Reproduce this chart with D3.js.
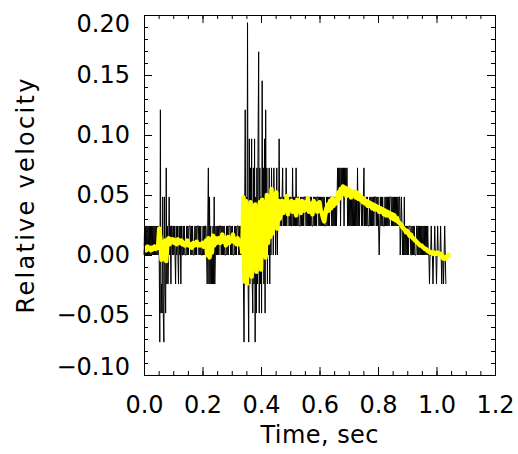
<!DOCTYPE html>
<html>
<head>
<meta charset="utf-8">
<script src="https://cdn.jsdelivr.net/npm/d3@7"></script>
<style>
  body { margin: 0; background: #fff; }
  svg { display: block; }
</style>
</head>
<body>
<div id="chart"></div>
<script>
// Raw trace sampled every 2 ms, smoothed trace every 4 ms.
const rawStep = 0.002;
const smoothStep = 0.004;
// The raw trace only takes whole multiples of this velocity step.
const levelStep = 0.0242;

// Raw trace (black), in velocity steps, one array per stretch of time.
const rawQuiet1 = [0,1,0,1,0,1,0,1,0,1,0,1,0,1,0,1,0,1,0,1,0,1,0,1,0,1];
const rawJolt = [0,-3,5,-2,-1,-2,2,-2,-3,2,-1,-2,3,-1,1,-1,0,2,0,1,-1,1];
const rawAfterJolt = [1,0,1,0,1,0,-1,1,0,1,0,-1,1,0,1,-1,1,0];
const rawQuiet2 = [0,1,0,1,0,0,0,1,0,1, 0,1,1,1,0,1,0,1,0,0,
                   0,1,0,1,0,1,1,1,0,1, 0,1,0,0,0,1,0,1,0,1];
const rawBlip = [1,0,-1,1,3,-1,2,-1,1,-1,0,-1,1,-1,2,-1,0,1,0,1];
const rawQuiet3 = [0,1,0,1,1,1,0,1,0,1, 0,1,0,0,0,1,0,1,0,1,
                   1,1,0,1,0,1,0,0,0,1, 0,1,0,1,1,1,0,1,0,1, 0,1];
const rawBurst = [0,1,-1,-3,1,5,-1,2,0,8, -1,-3,4,-1,3,0,4,-1,-2,3,
                  -1,4,-3,2,-2,3,-1,4,7,-2, 3,-1,2,-2,6,0,3,-1,4,-2,
                  5,0,3,-1,2,0,3,-1,2,0, 3,1,2,0,3,1,2,0,1,3, 0,2,1,4,1];
const rawPlateau = [1,2,1,2,3,1,2,1,2,1, 3,1,2,2,2,1,2,1,2,1,
                    1,3,1,2,1,2,1,3,1,2, 1,2,1,1,1,2,1,2,1,2,
                    1,2,2,2,1,2,1,2,1,2, 1,2,1,2,1,1,1,2,1,2,
                    1,2,1,2,2,2,1,2,1,2, 1,2,1,2,1,2,1,1,1,2,
                    1,2,1,2,1,2,2,2,1,2, 1,2,1,2,1,2,1];
const rawPeak = [2,3,2,3,2,3,1,3,2,3, 2,3,1,3,2,3,2,3,1,2, 1,2,1,2,1,2,1];
const rawFall = [2,1,2,1,2,1,2,1,3,1, 2,1,2,2,2,1,2,1,2,3,
                 1,2,1,2,1,2,1,1,1,2, 1,2,1,2,1,2,1,2,2,2,
                 1,2,1,2,1,0,1,2,1,2, 1,2,1,1,1,2,1,2,1,2,
                 1,2,1,2,2,2,1,2,1,2, 1,2,1,2,1,2,1,2,1,2];
const rawLow = [2,0,1,2,1,0,1,0,2,0, 1,0,1,0,1,0,1,1,1,0,
                0,1,0,1,0,1,0,0,0,1, 1,0,1,0,1,0,1,0,1,0, 1,0,1,0,1,0,1,0,1];
const rawEnd = [0,0,-1,0,0,1,0,0,-1,0, 0,1,0,0,-1,0,1,0,0,0,
                0,1,0,-1,0,0,-1,0,1,0, -1];

// Smoothed trace (yellow), in thousandths.
const smoothQuiet1 = [5,6,4,7,5,6,4,6,5,7,5,6,6];
const smoothJolt = [22,14,-4,10,-3,12,-5,11,14,9,13];
const smoothAfterJolt = [11,13,10,12,9,13,11,10,12];
const smoothQuiet2 = [9,10,8,9,12,8,9,9,6,10,8,9,11,8,9,8,9,10,7,9];
const smoothBlip = [12,0,14,-2,13,2,16,8,14,10];
const smoothQuiet3 = [12,14,10,13,17,11,14,8,13,15,10,14,12,17,11,13,9,14,9,12,11];
const smoothBurst = [2,48,-22,45,-24,40,-15,44,-18,38, -10,42,-14,35,0,44,-12,46,5,40,
                     -2,50,10,45,15,55,18,48,25,52, 22,45,30];
const smoothPlateau = [36,45,35,44,39,49,34,43,38,45, 36,44,39,33,46,38,43,35,45,39,
                       37,44,38,47,36,43,39,34,45,38, 43,36,41,44,37,35,31,28,34,39,
                       42,37,45,39,47,41,46,43];
const smoothPeak = [45,52,47,55,50,57,51,56,49,55,50,54,48,52];
const smoothFall = [51,53,48,52,47,50,46,48,44,47, 43,45,41,44,41,43,39,42,38,41,
                    38,40,36,39,36,38,34,37,33,36, 33,35,31,34,30,33,29,31,28,27];
const smoothLow = [26,25,23,22,21,19,20,18,16,17,15,14,13,12,11,10,9,8,8,7,6,5,5,4,3];
const smoothEnd = [3,2,2,1,2,1,1,2,1,0,1,-2,-3,-2,-3,-1,0,0,0];

// Axis labels
const xTickValues = [0, 0.2, 0.4, 0.6, 0.8, 1.0, 1.2];
const yTickValues = [-0.10, -0.05, 0, 0.05, 0.10, 0.15, 0.20];
const xTitle = "Time, sec";
const yTitle = "Relative velocity";

const rawLevels = [].concat(rawQuiet1, rawJolt, rawAfterJolt, rawQuiet2, rawBlip,
  rawQuiet3, rawBurst, rawPlateau, rawPeak, rawFall, rawLow, rawEnd);
const smoothValues = [].concat(smoothQuiet1, smoothJolt, smoothAfterJolt, smoothQuiet2,
  smoothBlip, smoothQuiet3, smoothBurst, smoothPlateau, smoothPeak, smoothFall,
  smoothLow, smoothEnd);

const width = 518;
const height = 454;
const plotLeft = 144, plotRight = 495, plotTop = 15, plotBottom = 375;
const font = "'DejaVu Sans', sans-serif";

const x = d3.scaleLinear().domain([0, 1.2]).range([plotLeft, plotRight]);
const y = d3.scaleLinear().domain([-0.10, 0.20]).range([plotBottom, plotTop]);

const svg = d3.select("#chart")
  .append("svg")
  .attr("width", width)
  .attr("height", height)
  .attr("viewBox", [0, 0, width, height]);

svg.append("rect")
  .attr("width", width)
  .attr("height", height)
  .attr("fill", "#fff");

// Traces
svg.append("path")
  .datum(rawLevels.map((v, i) => [i * rawStep, v * levelStep]))
  .attr("fill", "none")
  .attr("stroke", "#000")
  .attr("stroke-width", 1)
  .attr("d", d3.line().x((d) => x(d[0])).y((d) => y(d[1])));

svg.append("path")
  .datum(smoothValues.map((v, i) => [i * smoothStep, v / 1000]))
  .attr("fill", "none")
  .attr("stroke", "#ffff00")
  .attr("stroke-width", 4.5)
  .attr("stroke-linejoin", "round")
  .attr("d", d3.line().x((d) => x(d[0])).y((d) => y(d[1])));

// Tick marks on all four sides, pointing inward
function styleAxis(g) {
  g.attr("font-family", font).attr("font-size", 24);
  g.select(".domain").remove();
  g.selectAll(".tick line").attr("stroke", "#000");
  g.selectAll(".tick text").attr("fill", "#000");
}

svg.append("g")
  .attr("transform", `translate(0,${plotBottom})`)
  .call(d3.axisBottom(x).tickValues(xTickValues).tickSize(-8).tickPadding(21)
    .tickFormat(d3.format(".1f")))
  .call(styleAxis);

svg.append("g")
  .attr("transform", `translate(0,${plotBottom})`)
  .call(d3.axisBottom(x).ticks(24).tickSize(-4).tickFormat(""))
  .call(styleAxis);

svg.append("g")
  .attr("transform", `translate(0,${plotTop})`)
  .call(d3.axisTop(x).tickValues(xTickValues).tickSize(-8).tickFormat(""))
  .call(styleAxis);

svg.append("g")
  .attr("transform", `translate(0,${plotTop})`)
  .call(d3.axisTop(x).ticks(24).tickSize(-4).tickFormat(""))
  .call(styleAxis);

svg.append("g")
  .attr("transform", `translate(${plotLeft},0)`)
  .call(d3.axisLeft(y).tickValues(yTickValues).tickSize(-8).tickPadding(14)
    .tickFormat(d3.format(".2f")))
  .call(styleAxis)
  .call((g) => {
    // keep the end labels inside the frame height
    g.selectAll(".tick text")
      .filter((d) => d === 0.20)
      .attr("y", 9);
    g.selectAll(".tick text")
      .filter((d) => d === -0.10)
      .attr("y", -8);
  });

svg.append("g")
  .attr("transform", `translate(${plotLeft},0)`)
  .call(d3.axisLeft(y).ticks(30).tickSize(-4).tickFormat(""))
  .call(styleAxis);

svg.append("g")
  .attr("transform", `translate(${plotRight},0)`)
  .call(d3.axisRight(y).tickValues(yTickValues).tickSize(-8).tickFormat(""))
  .call(styleAxis);

svg.append("g")
  .attr("transform", `translate(${plotRight},0)`)
  .call(d3.axisRight(y).ticks(30).tickSize(-4).tickFormat(""))
  .call(styleAxis);

// Frame
svg.append("rect")
  .attr("x", plotLeft + 0.5)
  .attr("y", plotTop + 0.5)
  .attr("width", plotRight - plotLeft)
  .attr("height", plotBottom - plotTop)
  .attr("fill", "none")
  .attr("stroke", "#000")
  .attr("stroke-width", 1);

// Axis titles
svg.append("text")
  .attr("x", (plotLeft + plotRight) / 2)
  .attr("y", 443)
  .attr("text-anchor", "middle")
  .attr("font-family", font)
  .attr("font-size", 24)
  .attr("textLength", 118)
  .text(xTitle);

svg.append("text")
  .attr("transform", `translate(34,${(plotTop + plotBottom) / 2 + 1}) rotate(-90)`)
  .attr("text-anchor", "middle")
  .attr("font-family", font)
  .attr("font-size", 24)
  .attr("textLength", 235)
  .text(yTitle);
</script>
</body>
</html>
